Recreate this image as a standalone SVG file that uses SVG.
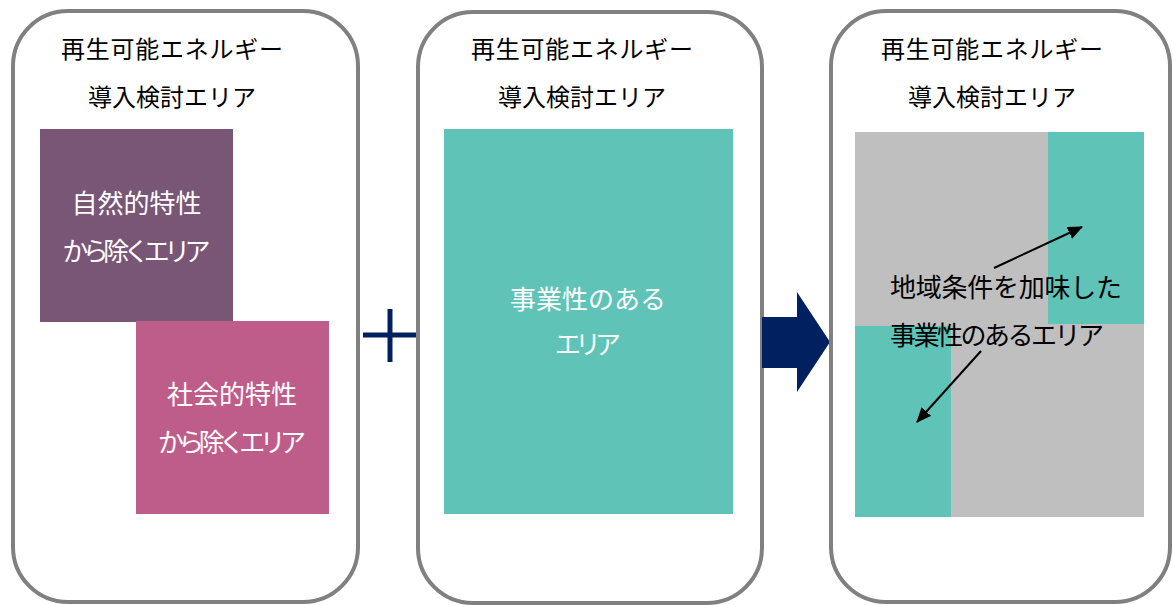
<svg xmlns="http://www.w3.org/2000/svg" width="1173" height="605" viewBox="0 0 1173 605">
<defs>
<style>
.panel{fill:#ffffff;stroke:#808080;stroke-width:4}
.hd{font-family:"Noto Sans CJK JP","Noto Sans",sans-serif;font-size:24px;fill:#000000;text-anchor:middle}
.wt{font-family:"Noto Sans CJK JP","Noto Sans",sans-serif;font-size:26px;fill:#ffffff;text-anchor:middle}
.bk{font-family:"Noto Sans CJK JP","Noto Sans",sans-serif;font-size:26px;fill:#000000}
.teal{fill:#5fc3b8}
.conn{stroke:#000000;stroke-width:2;fill:none;marker-end:url(#ah)}
</style>
<marker id="ah" markerWidth="15" markerHeight="13" refX="14" refY="6.5" orient="auto" markerUnits="userSpaceOnUse" viewBox="0 0 15 13">
<path d="M0,0 L15,6.5 L0,13 z" fill="#000000"/>
</marker>
</defs>
<rect width="1173" height="605" fill="#ffffff"/>
<g id="panel1">
<rect class="panel" x="13" y="11" width="345" height="591" rx="55" ry="55"/>
<text class="hd" x="172" y="58" textLength="222" lengthAdjust="spacing">再生可能エネルギー</text>
<text class="hd" x="172" y="106">導入検討エリア</text>
</g>
<g id="natural">
<rect x="40" y="129" width="193" height="193" fill="#795676"/>
<text class="wt" x="136.5" y="213">自然的特性</text>
<text class="wt" x="136.5" y="261" textLength="148" lengthAdjust="spacing">から除くエリア</text>
</g>
<g id="social">
<rect x="136" y="321" width="193" height="193" fill="#bf5d8a"/>
<text class="wt" x="232" y="404">社会的特性</text>
<text class="wt" x="232" y="452" textLength="148" lengthAdjust="spacing">から除くエリア</text>
</g>
<g id="plus">
<rect x="363" y="332.5" width="54" height="5" fill="#002060"/>
<rect x="387.5" y="309" width="5" height="53" fill="#002060"/>
</g>
<g id="panel2">
<rect class="panel" x="418" y="12" width="344" height="591" rx="55" ry="55"/>
<text class="hd" x="582" y="58" textLength="222" lengthAdjust="spacing">再生可能エネルギー</text>
<text class="hd" x="582" y="106">導入検討エリア</text>
</g>
<g id="business">
<rect class="teal" x="444" y="129" width="289" height="385"/>
<text class="wt" x="588" y="309">事業性のある</text>
<text class="wt" x="588" y="354" textLength="66" lengthAdjust="spacing">エリア</text>
</g>
<g id="arrow">
<path d="M762,317 L797,317 L797,292 L830,342 L797,392 L797,368 L762,368 z" fill="#002060"/>
</g>
<g id="panel3">
<rect class="panel" x="831" y="11" width="339" height="591" rx="55" ry="55"/>
<text class="hd" x="992" y="58" textLength="222" lengthAdjust="spacing">再生可能エネルギー</text>
<text class="hd" x="992" y="106">導入検討エリア</text>
</g>
<g id="result">
<rect x="855" y="132" width="289" height="385" fill="#bfbfbf"/>
<rect class="teal" x="1048" y="132" width="96" height="192"/>
<rect class="teal" x="855" y="326" width="96" height="191"/>
<text class="bk" x="890" y="297" textLength="232" lengthAdjust="spacing">地域条件を加味した</text>
<text class="bk" x="890" y="345" textLength="214" lengthAdjust="spacing">事業性のあるエリア</text>
</g>
<g id="connectors">
<line class="conn" x1="994" y1="268" x2="1082" y2="227"/>
<line class="conn" x1="981" y1="351" x2="917" y2="422"/>
</g>
</svg>
